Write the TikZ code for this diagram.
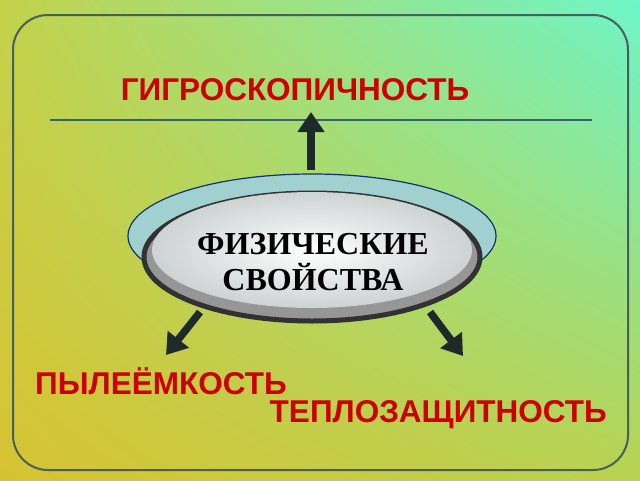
\documentclass[tikz,border=0pt]{standalone}
\usepackage{fontspec}
\setmainfont{Liberation Sans}
\newfontfamily\serifbf{Liberation Serif}
\usetikzlibrary{arrows.meta,shadings}
\definecolor{lbl}{HTML}{CC0000}
\definecolor{arr}{HTML}{1E2A2A}
\definecolor{ul}{RGB}{195,210,75}
\definecolor{ur}{RGB}{110,245,200}
\definecolor{ll}{RGB}{215,195,50}
\definecolor{lr}{RGB}{185,210,80}
\definecolor{frame}{RGB}{70,95,95}
\definecolor{hline}{RGB}{55,100,100}
\definecolor{ring}{RGB}{160,208,208}
\definecolor{ringb}{RGB}{20,50,110}
\definecolor{inb}{RGB}{50,50,50}
\definecolor{inf}{RGB}{150,150,150}
\definecolor{ino}{RGB}{205,210,210}
\tikzset{
 lab/.style={text=lbl,font=\bfseries\fontsize{31.5}{34}\selectfont,inner sep=0},
 arrw/.style={draw=arr,line width=7.5pt,-{Triangle[length=20pt,width=26pt]}},
}
\begin{document}
\begin{tikzpicture}[x=1pt,y=-1pt]
\useasboundingbox (0,0) rectangle (640,480);
\shade[upper left=ul,upper right=ur,lower left=ll,lower right=lr] (0,0) rectangle (640,480);
\draw[draw=frame,line width=2pt,rounded corners=35pt] (13,15) rectangle (628,470);
\draw[draw=hline,line width=2.2pt] (50,120) -- (592,120);
\node[lab] (g) at (295,90) {ГИГРОСКОПИЧНОСТЬ};
\node[lab,anchor=west] (p) at (35,381) {ПЫЛЕЁМКОСТЬ};
\node[lab,anchor=east] (t) at (607,415) {ТЕПЛОЗАЩИТНОСТЬ};
\draw[fill=ring,draw=ringb,line width=1.2pt] (312,236) ellipse (184 and 62);
\draw[draw=inb,line width=5pt,fill=inf] (312,257) ellipse (168 and 64);
\shade[inner color=white,outer color=ino] (312,250) ellipse (160 and 58);
\node[font=\serifbf\bfseries\fontsize{32}{36}\selectfont,align=center,text=black] (c) at (313,262) {ФИЗИЧЕСКИЕ\\СВОЙСТВА};
\coordinate (ut) at (311,170); \coordinate (uh) at (311,112);
\coordinate (lt) at (200,312); \coordinate (lh) at (166,355);
\coordinate (rt) at (430,312); \coordinate (rh) at (463,356);
\draw[arrw] (ut) -- (uh);
\draw[arrw] (lt) -- (lh);
\draw[arrw] (rt) -- (rh);
\end{tikzpicture}
\end{document}
